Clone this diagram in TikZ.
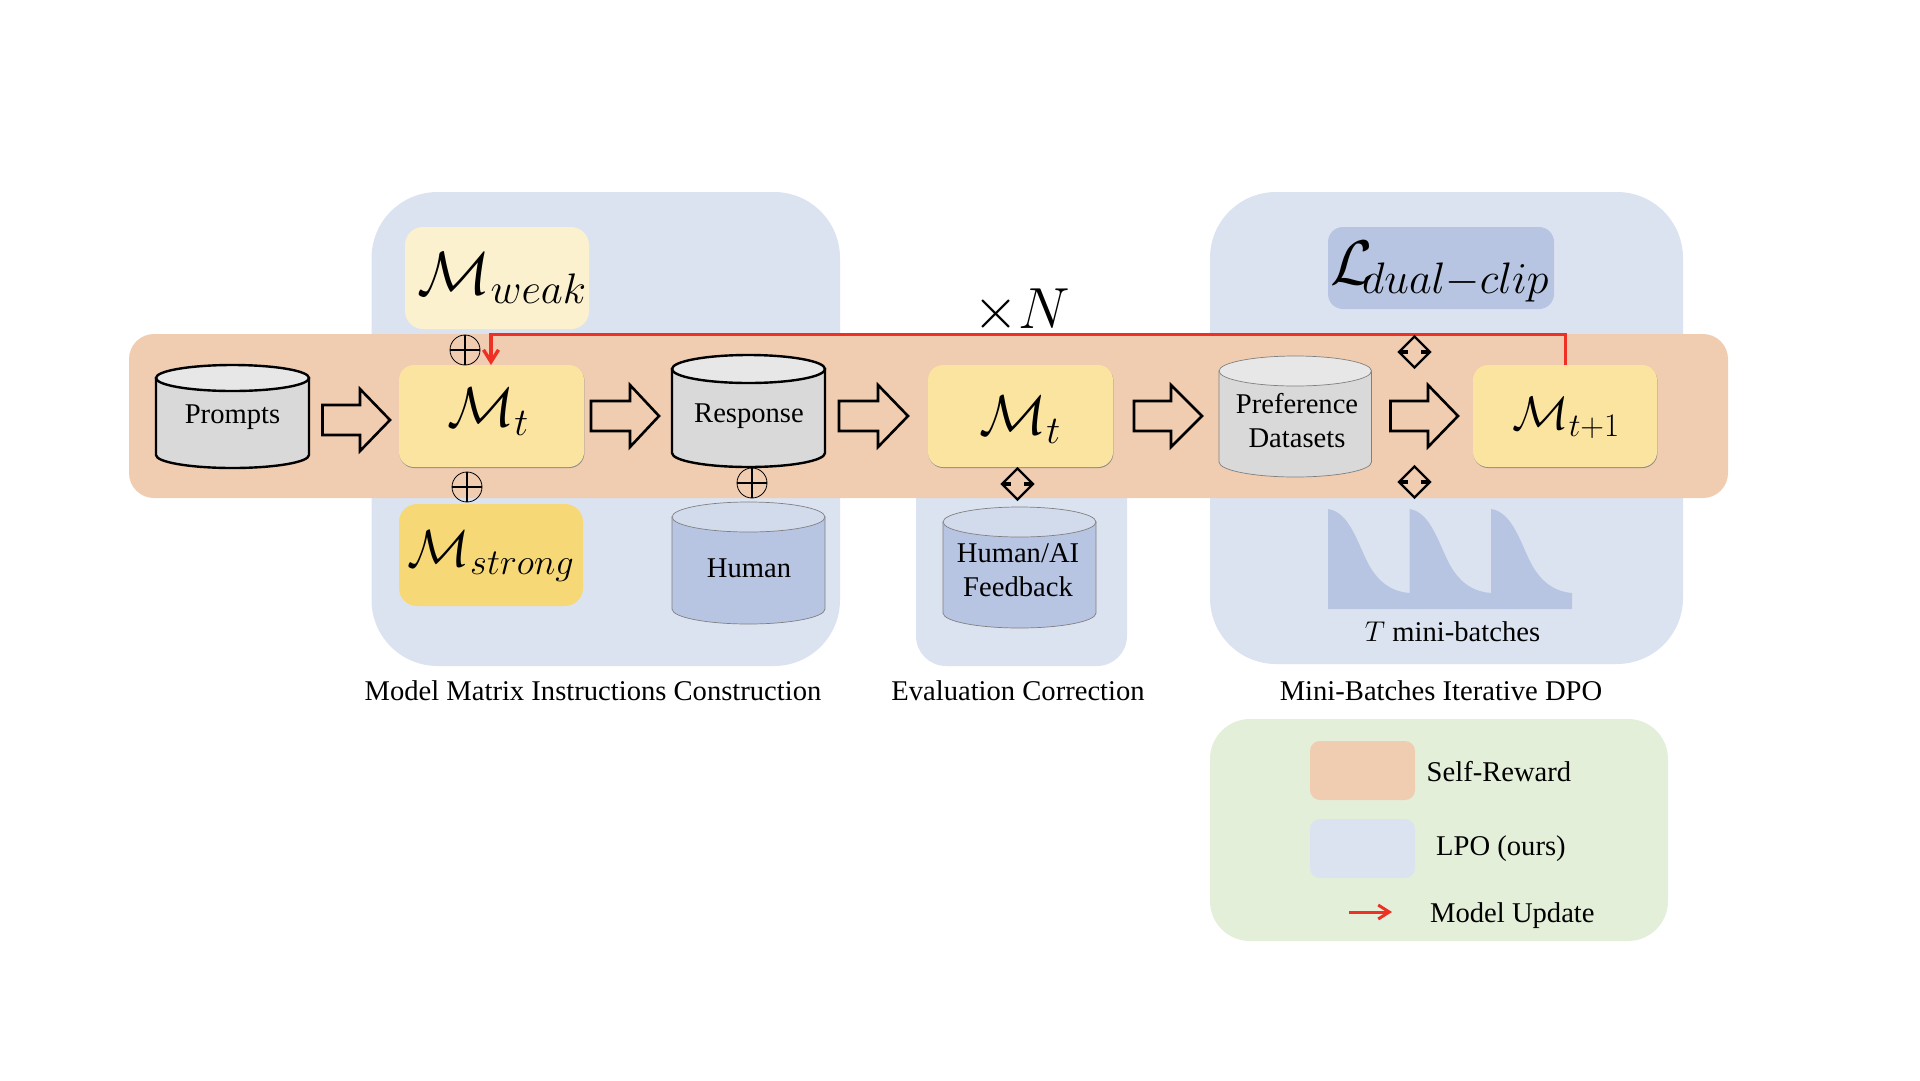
\RequirePackage{fix-cm}
\documentclass[tikz,border=0pt]{standalone}
\usepackage{fontspec}
\setmainfont{Liberation Serif}
\usetikzlibrary{shapes.geometric,arrows.meta}
\definecolor{pblue}{HTML}{DCE3F0}
\definecolor{porange}{HTML}{F0CCB0}
\definecolor{pgreen}{HTML}{E3EFD9}
\definecolor{yweak}{HTML}{FCF1CF}
\definecolor{ymid}{HTML}{FAE49F}
\definecolor{ystrong}{HTML}{F7D876}
\definecolor{bdark}{HTML}{B7C5E2}
\definecolor{btop}{HTML}{D2DBEC}
\definecolor{gbody}{HTML}{D9D9D9}
\definecolor{gtop}{HTML}{E7E7E7}
\definecolor{redline}{HTML}{EE3124}
\newcommand{\fs}[1]{\fontsize{#1}{#1}\selectfont}
% x, y, width, height, ry, fill, top fill, line options, name
\newcommand{\cyl}[9]{%
  \draw[#8,fill=#6] (#1,#2+#5) -- (#1,#2+#4-#5) arc[start angle=180,end angle=360,x radius=#3/2,y radius=-#5] -- (#1+#3,#2+#5) -- cycle;
  \draw[#8,fill=#7] (#1+#3/2,#2+#5) ellipse[x radius=#3/2,y radius=#5];
  \coordinate (#9) at (#1+#3/2,#2+#4/2);}
% tip x, base x, head x, tip y
\newcommand{\bigarrow}[5]{%
  \coordinate (#5) at (#1,#4);
  \draw[arrowline] (#2,#4-15) -- (#3,#4-15) -- (#3,#4-31) -- (#5) -- (#3,#4+31) -- (#3,#4+15) -- (#2,#4+15) -- cycle;}
\newcommand{\opl}[3]{%
  \node[circle,draw=black,line width=.8pt,minimum size=30pt,inner sep=0pt] (#3) at (#1,#2) {};
  \draw[line width=2pt] (#3.north) -- (#3.south) (#3.west) -- (#3.east);}
\newcommand{\dia}[3]{%
  \node[diamond,draw=black,line width=2.4pt,minimum width=32pt,minimum height=32pt,inner sep=0pt] (#3) at (#1,#2) {};
  \draw[line width=4pt] ([xshift=3pt]#3.west) -- ++(7.5,0) ([xshift=-3pt]#3.east) -- ++(-7.5,0);}
\tikzset{
  panel/.style={fill=pblue,draw=none},
  band/.style={fill=porange,draw=none,rounded corners=25pt},
  model/.style={fill=ymid,draw=none,rounded corners=15pt,
    preaction={fill=black!45,transform canvas={xshift=.4pt,yshift=-1pt}}},
  lbl/.style={font=\fs{28.6},align=center,inner sep=0pt,text=black},
  math/.style={inner sep=0pt,text=black},
  arrowline/.style={draw=black,line width=2.6pt,miter limit=6},
  thickcyl/.style={draw=black,line width=2.4pt},
  thincyl/.style={draw=black!50,line width=.7pt},
}
\begin{document}
\begin{tikzpicture}[x=1pt,y=-1pt]
\useasboundingbox (0,0) rectangle (1920,1080);
% panels
\fill[panel,rounded corners=66pt] (371.5,192) rectangle (840,666);
\fill[panel,rounded corners=66pt] (1210,192) rectangle (1683,664);
\fill[panel,rounded corners=30pt] (916,450) rectangle (1127,666);
\fill[band] (129,334) rectangle (1728,498);
% top boxes
\node[fill=yweak,rounded corners=18pt,minimum width=184pt,minimum height=102pt,inner sep=0pt] (weak) at (497,278) {};
\node[math,anchor=center] at (502,278) {\fs{61}$\mathcal{M}_{weak}$};
\node[fill=ystrong,rounded corners=18pt,minimum width=184pt,minimum height=102pt,inner sep=0pt] (strong) at (491,555) {};
\node[math,anchor=center] at (491,556) {\fs{52}$\mathcal{M}_{strong}$};
\node[fill=bdark,rounded corners=15pt,minimum width=226pt,minimum height=82pt,inner sep=0pt] (dual) at (1441,268) {};
\node[math,anchor=center] at (1440,272) {\fs{63}$\mathcal{L}_{\mkern-5mu dual-clip}$};
% models
\node[model,minimum width=185pt,minimum height=102pt,inner sep=0pt] (m1) at (491.5,416) {};
\node[math] at (488,412) {\fs{56}$\mathcal{M}_t$};
\node[model,minimum width=185pt,minimum height=102pt,inner sep=0pt] (m2) at (1020.5,416) {};
\node[math] at (1020,420) {\fs{56}$\mathcal{M}_t$};
\node[model,minimum width=184pt,minimum height=102pt,inner sep=0pt] (m3) at (1565,416) {};
\node[math] at (1566,418) {\fs{47}$\mathcal{M}_{t+1}$};
% cylinders
\cyl{156}{365}{153}{103}{13}{gbody}{gtop}{thickcyl}{cprompts}
\node[lbl] at (232.5,417) {Prompts};
\cyl{672}{355}{153}{112}{14}{gbody}{gtop}{thickcyl}{cresp}
\node[lbl] at (749,416) {Response};
\cyl{672}{502}{153}{122}{15}{bdark}{btop}{thincyl}{chuman}
\node[lbl] at (749,568) {Human};
\cyl{943}{507}{153}{121}{15}{bdark}{btop}{thincyl}{cfeed}
\node[lbl] at (1018,570) {Human/AI\\[5.5pt]Feedback};
\cyl{1219}{356}{152.5}{121}{15}{gbody}{gtop}{thincyl}{cpref}
\node[lbl] at (1297,421) {Preference\\[5.5pt]Datasets};
% block arrows
\bigarrow{390}{322.5}{360}{420}{a1}
\bigarrow{659}{591}{630}{416}{a2}
\bigarrow{908}{839}{878}{416}{a3}
\bigarrow{1202}{1134}{1171}{416}{a4}
\bigarrow{1458}{1390.5}{1428}{416}{a5}
% operators
\opl{465}{350}{o1}
\opl{467}{487}{o2}
\opl{752}{483}{o3}
% red update line
\coordinate (rstart) at (1565.5,365);
\coordinate (rtopa) at (1565.5,334.5);
\coordinate (rtopb) at (491,334.5);
\coordinate (rend) at (491,365);
\draw[redline,line width=3.4pt,-{Straight Barb[length=12pt,width=15pt]}] (rstart) -- (rtopa) -- (rtopb) -- (rend);
\dia{1017.5}{484}{d1}
\dia{1414.5}{352}{d2}
\dia{1414.5}{482}{d3}
% times N
\node[math] (timesn) at (1021.5,311) {\fs{58}$\times N$};
% mini batch curves
\fill[bdark] (1328,609) -- (1328,509) .. controls (1350,512) and (1358,545) .. (1369,565) .. controls (1380,585) and (1395,592) .. (1409.5,593)
  -- (1409.5,509) .. controls (1431,512) and (1439,545) .. (1450,565) .. controls (1461,585) and (1476,592) .. (1491,593)
  -- (1491,509) .. controls (1513,512) and (1521,545) .. (1532,565) .. controls (1543,585) and (1558,592) .. (1572,593)
  -- (1572,609) -- cycle;
\node[lbl,anchor=base] at (1452.5,641) {$T$ mini-batches};
% captions
\node[lbl,anchor=base] (c1) at (593,700) {Model Matrix Instructions Construction};
\node[lbl,anchor=base] (c2) at (1018,700) {Evaluation Correction};
\node[lbl,anchor=base] (c3) at (1441,700) {Mini-Batches Iterative DPO};
% legend
\fill[pgreen,rounded corners=40pt] (1210,719) rectangle (1668,941);
\fill[porange,rounded corners=10pt] (1310,741) rectangle (1415,800);
\fill[pblue,rounded corners=10pt] (1310,819) rectangle (1415,878);
\node[lbl,anchor=base west] (l1) at (1426.5,781) {Self-Reward};
\node[lbl,anchor=base west] (l2) at (1436,855) {LPO (ours)};
\node[lbl,anchor=base west] (l3) at (1430,922) {Model Update};
\coordinate (ua) at (1349,912);
\coordinate (ub) at (1392,912);
\draw[redline,line width=3pt,-{Straight Barb[length=11pt,width=14pt]}] (ua) -- (ub);
\end{tikzpicture}
\end{document}
